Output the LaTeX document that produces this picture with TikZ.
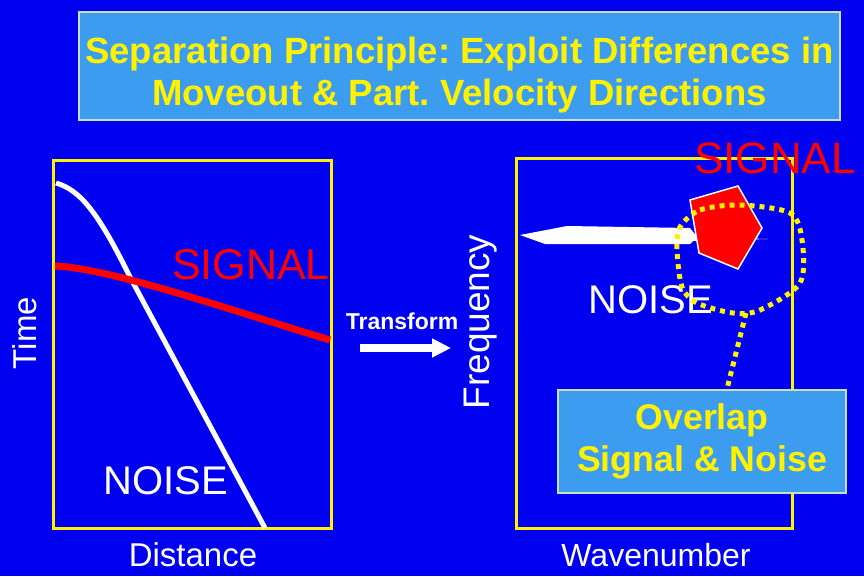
\documentclass[tikz,border=0pt]{standalone}
\usepackage{fontspec}
\setmainfont{Liberation Sans}
\usetikzlibrary{positioning,arrows.meta,calc}
\definecolor{bgblue}{HTML}{0000F0}
\definecolor{skyblue}{HTML}{3C9CF0}
\definecolor{paleedge}{HTML}{C8E0C0}
\definecolor{sigred}{HTML}{FF0000}
\newcommand{\fsz}[1]{\fontsize{#1}{#1}\selectfont}
\frenchspacing

\begin{document}
\begin{tikzpicture}[x=1pt, y=-1pt,
      panel/.style={draw=yellow, line width=3pt, inner sep=0pt},
      banner/.style={draw=paleedge, fill=skyblue, line width=2pt, align=center,
                     text=yellow, font=\bfseries},
      axis/.style={text=white, inner sep=0pt},
      tag/.style={inner sep=0pt, anchor=base},
      dots/.style={draw=yellow, line width=5pt, dash pattern=on 5pt off 5pt}]
    \fill[bgblue] (0,0) rectangle (864,576);
    \useasboundingbox (0,0) rectangle (864,576);

    \node[banner, minimum width=761, minimum height=108,
          font=\bfseries\fontsize{36.5}{42}\selectfont] (title) at (459.5,66)
      {\rule{0pt}{45pt}Separation Principle: Exploit Differences in\\Moveout \& Part. Velocity Directions};

    % distance - time panel
    \node[panel, minimum width=278, minimum height=368] (xt) at (192,344) {};
    \draw[white, line width=5pt] (56,183) .. controls (80,190) and (98,212) .. (130,277) -- (265,528);
    \draw[sigred, line width=7pt] (55,266) .. controls (110,268) and (230,310) .. (330,340);
    \node[tag, text=sigred, font=\fsz{43}] (sigxt) at (251,279) {SIGNAL};
    \node[tag, text=white, font=\fsz{40}] (noisext) at (166,494) {NOISE};
    \node[axis, rotate=90, font=\fsz{33}] (time) at (25,333) {Time};
    \node[axis, font=\fsz{33}] (dist) at (193,555) {Distance};

    % transform arrow
    \node[axis, font=\bfseries\fsz{23}] (trans) at (402,321) {Transform};
    \coordinate (tfrom) at (360,348);
    \coordinate (tto) at (451,348);
    \draw[white, line width=8pt, -{Triangle[length=19pt, width=18pt]}] (tfrom) -- (tto);

    % wavenumber - frequency panel
    \node[panel, minimum width=276, minimum height=370] (fk) at (654,343) {};
    \node[axis, rotate=90, font=\fsz{37}] (freq) at (481,322) {Frequency};
    \node[axis, font=\fsz{32}] (wave) at (656,555) {Wavenumber};
    \fill[white] (520,235) -- (567,226) -- (690,228) -- (697,237) -- (768,239)
      -- (693,241) -- (690,244) -- (545,244) -- cycle;
    \filldraw[fill=sigred, draw=white, line width=1.5pt]
      (690,200) -- (738,186) -- (762,228) -- (738,269) -- (699,253) -- cycle;
    \node[tag, text=sigred, font=\fsz{44}] (sigfk) at (775,173) {SIGNAL};
    \node[tag, text=white, font=\fsz{40}] (noisefk) at (651,313) {NOISE};
    \draw[dots] plot[smooth cycle] coordinates {(680,227) (700,210) (740,205) (790,213)
      (802,240) (800,283) (760,310) (733,313) (697,303) (682,287) (677,250)};

    \node[banner, minimum width=288, minimum height=103,
          font=\bfseries\fontsize{35.7}{42}\selectfont] (ovl) at (702,441.5)
      {Overlap\\Signal \& Noise};
    \coordinate (loopb) at (746,313);
    \draw[dots] (loopb) -- ($(ovl.north)+(25,0)$);
  \end{tikzpicture}
\end{document}
